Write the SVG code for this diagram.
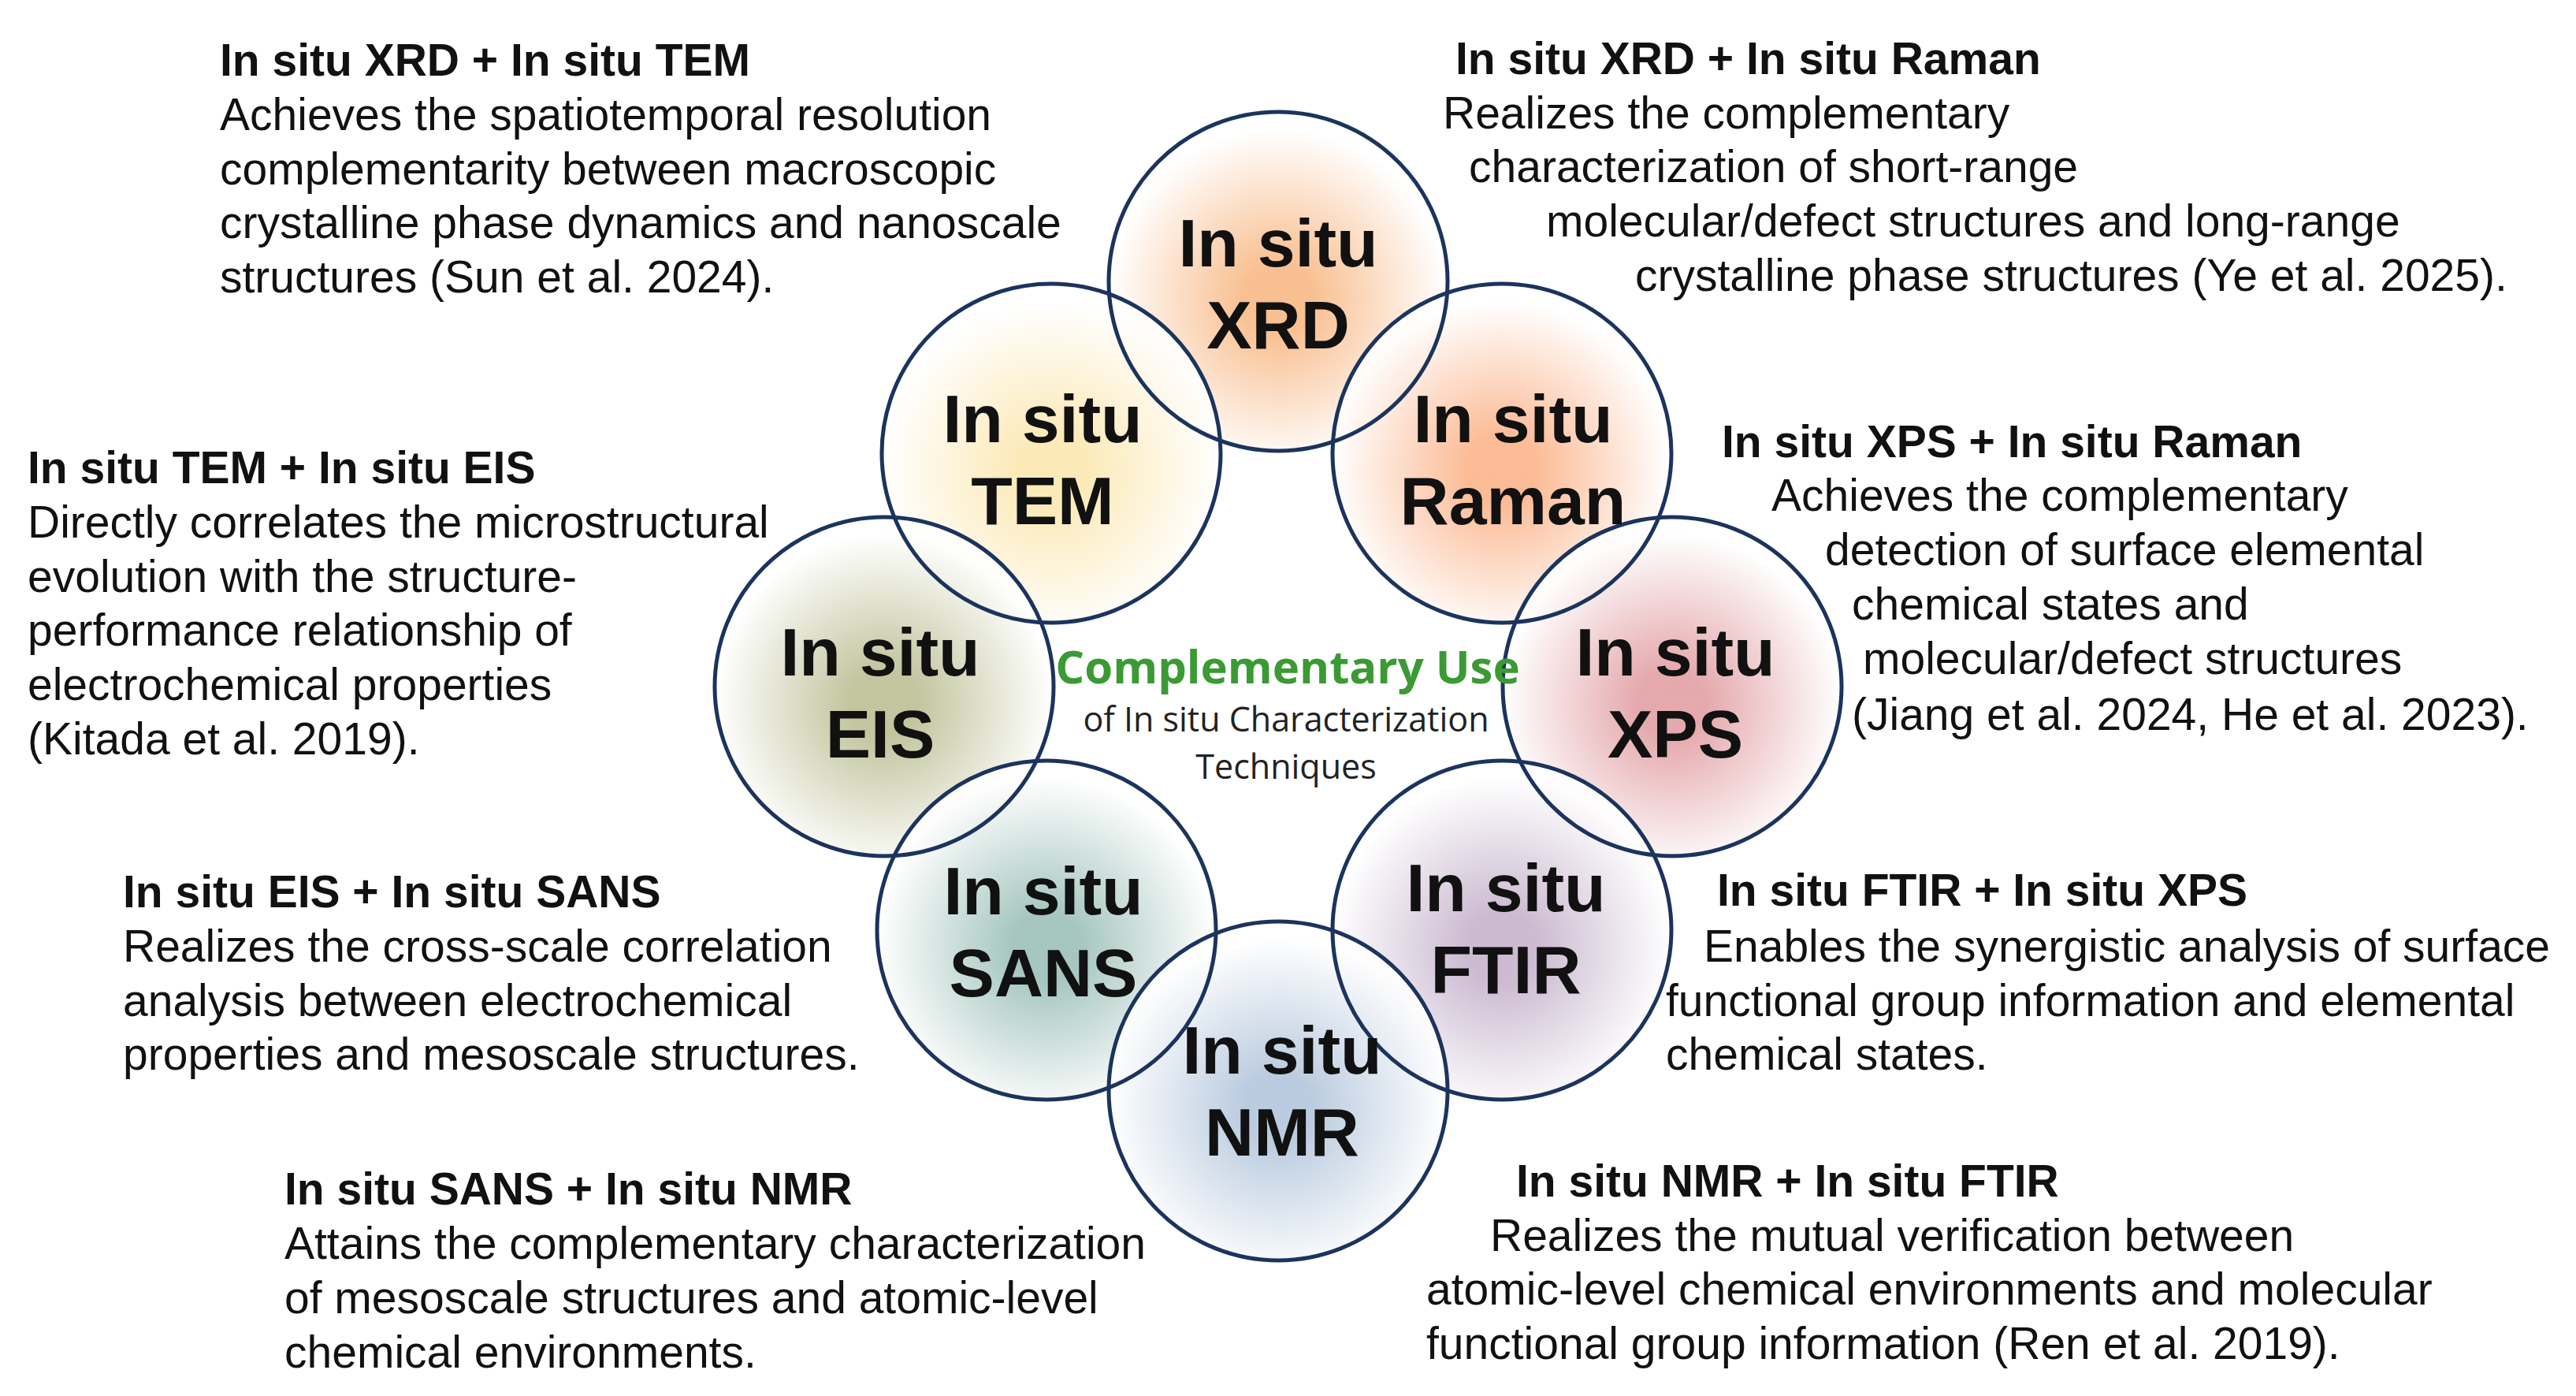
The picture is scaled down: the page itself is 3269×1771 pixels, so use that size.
<svg xmlns="http://www.w3.org/2000/svg" width="3269" height="1771" viewBox="0 0 3269 1771">
<style>
.fill{stroke:none;fill-opacity:0.9}
.ring{stroke:#1b345e;stroke-width:5;fill:none}
.lab{font-family:"Liberation Sans",Arial,sans-serif;font-weight:bold;font-size:86px;fill:#111;text-anchor:middle}
.t{font-family:"Liberation Sans",Arial,sans-serif;font-size:57px;fill:#111}
.b{font-weight:bold}
.c1{font-family:"Open Sans","Noto Sans",sans-serif;font-weight:bold;font-size:58px;fill:#3b9a34;text-anchor:middle}
.c2{font-family:"Open Sans","Noto Sans",sans-serif;font-size:43px;fill:#222;text-anchor:middle}
</style>
<defs>
<radialGradient id="gXRD" cx="0.5" cy="0.55" r="0.5"><stop offset="0.2" stop-color="#f8b985"/><stop offset="1" stop-color="#fff"/></radialGradient>
<radialGradient id="gTEM" cx="0.5" cy="0.55" r="0.5"><stop offset="0.2" stop-color="#fbe7b0"/><stop offset="1" stop-color="#fff"/></radialGradient>
<radialGradient id="gRaman" cx="0.5" cy="0.55" r="0.5"><stop offset="0.2" stop-color="#fbb48a"/><stop offset="1" stop-color="#fff"/></radialGradient>
<radialGradient id="gEIS" cx="0.5" cy="0.55" r="0.5"><stop offset="0.2" stop-color="#bcbf94"/><stop offset="1" stop-color="#fff"/></radialGradient>
<radialGradient id="gXPS" cx="0.5" cy="0.55" r="0.5"><stop offset="0.2" stop-color="#e2a0a4"/><stop offset="1" stop-color="#fff"/></radialGradient>
<radialGradient id="gSANS" cx="0.5" cy="0.55" r="0.5"><stop offset="0.2" stop-color="#9cc0b8"/><stop offset="1" stop-color="#fff"/></radialGradient>
<radialGradient id="gFTIR" cx="0.5" cy="0.55" r="0.5"><stop offset="0.2" stop-color="#c6b3cc"/><stop offset="1" stop-color="#fff"/></radialGradient>
<radialGradient id="gNMR" cx="0.5" cy="0.55" r="0.5"><stop offset="0.2" stop-color="#b3c6dc"/><stop offset="1" stop-color="#fff"/></radialGradient>
</defs>
<rect width="3269" height="1771" fill="#fff"/>
<g id="connectors"></g>
<g id="node-XRD"><circle class="fill" cx="1622" cy="357" r="215" fill="url(#gXRD)"/></g>
<g id="node-TEM"><circle class="fill" cx="1334" cy="575" r="215" fill="url(#gTEM)"/></g>
<g id="node-Raman"><circle class="fill" cx="1906" cy="575" r="215" fill="url(#gRaman)"/></g>
<g id="node-EIS"><circle class="fill" cx="1122" cy="871" r="215" fill="url(#gEIS)"/></g>
<g id="node-XPS"><circle class="fill" cx="2122" cy="871" r="215" fill="url(#gXPS)"/></g>
<g id="node-SANS"><circle class="fill" cx="1328" cy="1180" r="215" fill="url(#gSANS)"/></g>
<g id="node-FTIR"><circle class="fill" cx="1906" cy="1180" r="215" fill="url(#gFTIR)"/></g>
<g id="node-NMR"><circle class="fill" cx="1622" cy="1384" r="215" fill="url(#gNMR)"/></g>
<g id="outlines">
<circle class="ring" cx="1622" cy="357" r="215"/>
<circle class="ring" cx="1334" cy="575" r="215"/>
<circle class="ring" cx="1906" cy="575" r="215"/>
<circle class="ring" cx="1122" cy="871" r="215"/>
<circle class="ring" cx="2122" cy="871" r="215"/>
<circle class="ring" cx="1328" cy="1180" r="215"/>
<circle class="ring" cx="1906" cy="1180" r="215"/>
<circle class="ring" cx="1622" cy="1384" r="215"/>
</g>
<g id="labels">
<text class="lab" x="1622" y="338">In situ</text><text class="lab" x="1622" y="442">XRD</text>
<text class="lab" x="1323" y="561">In situ</text><text class="lab" x="1323" y="665">TEM</text>
<text class="lab" x="1920" y="561">In situ</text><text class="lab" x="1920" y="665">Raman</text>
<text class="lab" x="1117" y="857">In situ</text><text class="lab" x="1117" y="961">EIS</text>
<text class="lab" x="2126" y="857">In situ</text><text class="lab" x="2126" y="961">XPS</text>
<text class="lab" x="1324" y="1160">In situ</text><text class="lab" x="1324" y="1264">SANS</text>
<text class="lab" x="1911" y="1156">In situ</text><text class="lab" x="1911" y="1260">FTIR</text>
<text class="lab" x="1627" y="1362">In situ</text><text class="lab" x="1627" y="1466">NMR</text>
</g>
<g id="center">
<text class="c1" x="1634" y="867">Complementary Use</text>
<text class="c2" x="1632" y="928">of In situ Characterization</text>
<text class="c2" x="1632" y="988">Techniques</text>
</g>
<g id="desc">
<text class="t b" x="279" y="96">In situ XRD + In situ TEM</text>
<text class="t" x="279" y="165">Achieves the spatiotemporal resolution</text>
<text class="t" x="279" y="234">complementarity between macroscopic</text>
<text class="t" x="279" y="302">crystalline phase dynamics and nanoscale</text>
<text class="t" x="279" y="371">structures (Sun et al. 2024).</text>

<text class="t b" x="1847" y="94">In situ XRD + In situ Raman</text>
<text class="t" x="1831" y="163">Realizes the complementary</text>
<text class="t" x="1864" y="231">characterization of short-range</text>
<text class="t" x="1962" y="300">molecular/defect structures and long-range</text>
<text class="t" x="2075" y="369">crystalline phase structures (Ye et al. 2025).</text>

<text class="t b" x="35" y="613">In situ TEM + In situ EIS</text>
<text class="t" x="35" y="682">Directly correlates the microstructural</text>
<text class="t" x="35" y="751">evolution with the structure-</text>
<text class="t" x="35" y="819">performance relationship of</text>
<text class="t" x="35" y="888">electrochemical properties</text>
<text class="t" x="35" y="957">(Kitada et al. 2019).</text>

<text class="t b" x="2185" y="580">In situ XPS + In situ Raman</text>
<text class="t" x="2248" y="648">Achieves the complementary</text>
<text class="t" x="2316" y="717">detection of surface elemental</text>
<text class="t" x="2350" y="786">chemical states and</text>
<text class="t" x="2364" y="855">molecular/defect structures</text>
<text class="t" x="2350" y="926">(Jiang et al. 2024, He et al. 2023).</text>

<text class="t b" x="156" y="1151">In situ EIS + In situ SANS</text>
<text class="t" x="156" y="1220">Realizes the cross-scale correlation</text>
<text class="t" x="156" y="1289">analysis between electrochemical</text>
<text class="t" x="156" y="1357">properties and mesoscale structures.</text>

<text class="t b" x="2179" y="1149">In situ FTIR + In situ XPS</text>
<text class="t" x="2162" y="1220">Enables the synergistic analysis of surface</text>
<text class="t" x="2114" y="1289">functional group information and elemental</text>
<text class="t" x="2114" y="1357">chemical states.</text>

<text class="t b" x="361" y="1528">In situ SANS + In situ NMR</text>
<text class="t" x="361" y="1597">Attains the complementary characterization</text>
<text class="t" x="361" y="1666">of mesoscale structures and atomic-level</text>
<text class="t" x="361" y="1735">chemical environments.</text>

<text class="t b" x="1924" y="1518">In situ NMR + In situ FTIR</text>
<text class="t" x="1891" y="1587">Realizes the mutual verification between</text>
<text class="t" x="1810" y="1655">atomic-level chemical environments and molecular</text>
<text class="t" x="1810" y="1724">functional group information (Ren et al. 2019).</text>
</g>
</svg>
